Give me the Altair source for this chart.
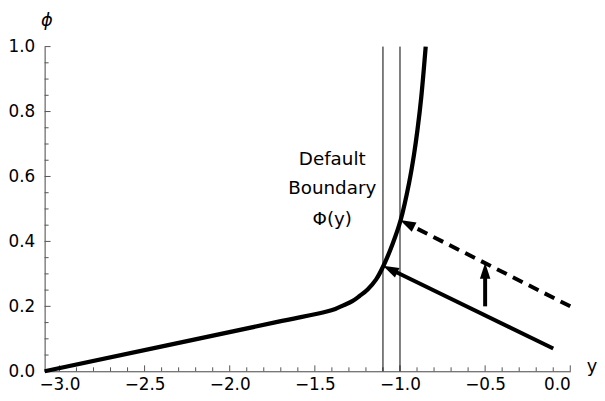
import math
import altair as alt
import pandas as pd

# ---- data ----
curve_y = [-3.087, -1.72, -1.43, -1.38, -1.333, -1.28, -1.237, -1.19, -1.14,
           -1.097, -1.043, -0.996, -0.946, -0.917, -0.897, -0.875, -0.849]
curve_phi = [0.0, 0.152, 0.184, 0.192, 0.203, 0.216, 0.232, 0.252, 0.283,
             0.325, 0.393, 0.466, 0.582, 0.67, 0.745, 0.845, 1.0]

vline_y = [-1.1, -1.0]

arrow_x0 = [-0.1, 0.0, -0.5]
arrow_p0 = [0.07, 0.2, 0.2]
arrow_x1 = [-1.1, -1.0, -0.5]
arrow_p1 = [0.325, 0.466, 0.334]
arrow_style = ["solid", "dashed", "solid"]

label_lines = ["Default", "Boundary", "\u03a6(y)"]
label_x = -1.398
label_phi = [0.636, 0.545, 0.451]

x_major = [-3.0, -2.5, -2.0, -1.5, -1.0, -0.5, 0.0]
y_major = [0.0, 0.2, 0.4, 0.6, 0.8, 1.0]
x_minor = [round(-3.0 + 0.1 * i, 2) for i in range(31) if i % 5 != 0]
y_minor = [round(0.05 * i, 2) for i in range(21) if i % 4 != 0]

X_DOM = [-3.087, 0.0]
Y_DOM = [0.0, 1.0]
W, H = 531, 328
FONT = "DejaVu Sans"

xs = alt.Scale(domain=X_DOM, nice=False, zero=False)
ys = alt.Scale(domain=Y_DOM, nice=False, zero=False)
xaxis = alt.Axis(values=x_major, format=".1f", ticks=False, grid=False,
                 labelFont=FONT, labelFontSize=17, labelColor="black",
                 labelPadding=5, domainColor="#444", domainWidth=1,
                 title="y", titleFont=FONT, titleFontSize=18,
                 titleFontWeight="normal", titleColor="black",
                 titleX=W + 21.5, titleY=0.5, titleAlign="center",
                 titleBaseline="alphabetic", titleAngle=0)
yaxis = alt.Axis(values=y_major, format=".1f", ticks=False, grid=False,
                 labelFont=FONT, labelFontSize=17, labelColor="black",
                 labelPadding=10, domainColor="#444", domainWidth=1,
                 title="\u03d5", titleFont=FONT, titleFontSize=18,
                 titleFontStyle="italic", titleFontWeight="normal",
                 titleColor="black", titleX=1.7, titleY=-21,
                 titleAlign="center", titleBaseline="alphabetic",
                 titleAngle=0)


def X(f):
    return alt.X(f, type="quantitative", scale=xs, axis=xaxis)


def Y(f):
    return alt.Y(f, type="quantitative", scale=ys, axis=yaxis)


# ---- tables ----
curve_df = pd.DataFrame({"x": curve_y, "p": curve_phi})
vline_df = pd.DataFrame({"x": vline_y})

px_x = W / (X_DOM[1] - X_DOM[0])
px_y = H / (Y_DOM[1] - Y_DOM[0])
head_len = 16.0
rows = []
for x0, p0, x1, p1, s in zip(arrow_x0, arrow_p0, arrow_x1, arrow_p1, arrow_style):
    dxs = (x1 - x0) * px_x
    dys = (p1 - p0) * px_y
    L = math.hypot(dxs, dys)
    f = 1 - (head_len - 2) / L
    ang = math.degrees(math.atan2(dxs, dys)) % 360
    rows.append({"x0": x0, "p0": p0, "x1": x1, "p1": p1,
                 "xe": x0 + (x1 - x0) * f, "pe": p0 + (p1 - p0) * f,
                 "ang": ang, "style": s})
arrow_df = pd.DataFrame(rows)
text_df = pd.DataFrame({"t": label_lines, "x": [label_x] * 3, "p": label_phi})

xt_major = pd.DataFrame({"x": x_major})
xt_minor = pd.DataFrame({"x": x_minor})
yt_major = pd.DataFrame({"p": y_major})
yt_minor = pd.DataFrame({"p": y_minor})

TICK = "#555"

layers = []
layers.append(alt.Chart(xt_major).mark_rule(color=TICK, strokeWidth=1).encode(
    x=X("x"), y=alt.value(H), y2=alt.value(H - 6)))
layers.append(alt.Chart(xt_minor).mark_rule(color=TICK, strokeWidth=1).encode(
    x=X("x"), y=alt.value(H), y2=alt.value(H - 4)))
layers.append(alt.Chart(yt_major).mark_rule(color=TICK, strokeWidth=1).encode(
    y=Y("p"), x=alt.value(0), x2=alt.value(6)))
layers.append(alt.Chart(yt_minor).mark_rule(color=TICK, strokeWidth=1).encode(
    y=Y("p"), x=alt.value(0), x2=alt.value(4)))

layers.append(alt.Chart(vline_df).mark_rule(color="black", strokeWidth=1).encode(
    x=X("x"), y=alt.value(0), y2=alt.value(H)))

layers.append(alt.Chart(curve_df).mark_line(color="black", strokeWidth=4.3,
                                            interpolate="catmull-rom").encode(
    x=X("x"), y=Y("p"), order="x:Q"))

solid = arrow_df[arrow_df["style"] == "solid"]
dashed = arrow_df[arrow_df["style"] == "dashed"]
layers.append(alt.Chart(solid).mark_rule(color="black", strokeWidth=4).encode(
    x=X("x0"), y=Y("p0"), x2="xe", y2="pe"))
layers.append(alt.Chart(dashed).mark_rule(color="black", strokeWidth=4,
                                          strokeDash=[11, 7]).encode(
    x=X("x0"), y=Y("p0"), x2="xe", y2="pe"))
layers.append(alt.Chart(arrow_df).mark_point(
    shape="M0,0 L-0.33,1 L0.33,1 Z", filled=True, fill="black",
    stroke=None, opacity=1, size=4 * head_len * head_len).encode(
    x=X("x1"), y=Y("p1"), angle=alt.Angle("ang:Q", scale=None)))

layers.append(alt.Chart(text_df).mark_text(font=FONT, fontSize=18.5, color="black",
                                           align="center",
                                           baseline="alphabetic").encode(
    x=X("x"), y=Y("p"), text="t:N"))

chart = alt.layer(*layers).properties(
    width=W, height=H,
    autosize=alt.AutoSizeParams(type="none"),
    padding={"left": 37, "top": 37, "right": 27, "bottom": 25},
).configure_view(stroke=None)

chart.save("out.html", embed_options={"renderer": "svg", "actions": False})
